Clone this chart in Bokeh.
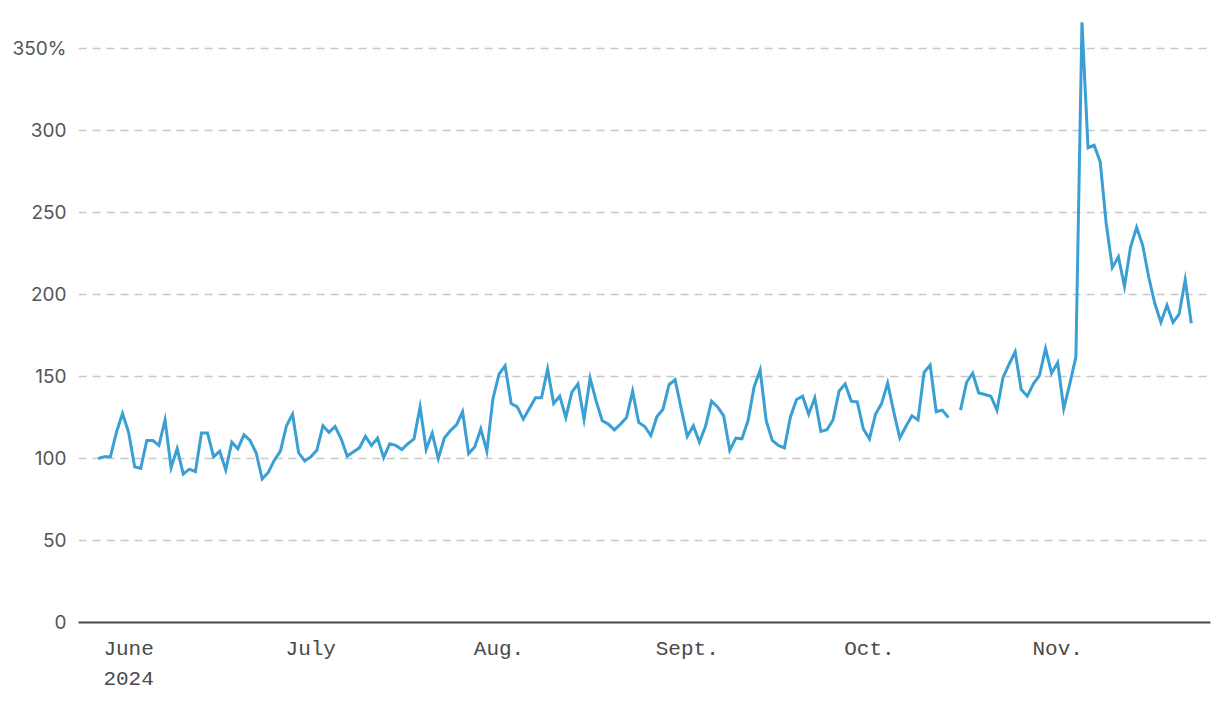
import datetime
import numpy as np
import pandas as pd
from bokeh.plotting import figure
from bokeh.models import FixedTicker, Range1d, ColumnDataSource
from bokeh.embed import file_html
from bokeh.resources import INLINE

nan = np.nan

# Daily index values (%), May 27 – Nov 23, 2024 (one missing day mid-October)
start_date = "2024-05-27"
end_date = "2024-11-23"
values = [
    100, 101, 101, 116, 127.5, 116, 95, 94, 111, 111, 108, 123.5, 94.5, 106, 90.5, 93.5, 92, 115.5, 115.5, 101, 104.5, 93, 110, 106, 114.5,
    111, 103.5, 87.5, 91.5, 99, 104.5, 120, 127, 103.5, 98.5, 101, 105, 120, 116, 119.5, 112, 101.5, 104, 106.5, 113.5, 108, 112.5, 100.5, 109, 108,
    105.5, 109, 112, 131.5, 105.5, 115.5, 100, 112.5, 117, 120.5, 128.5, 103, 107, 118, 104.5, 136.5, 151.5, 156.5, 133.5, 131.5, 124, 130.5, 137, 137,
    154.5, 133.5, 138, 125, 140.5, 145.5, 124, 149, 135, 123, 121, 117.5, 121, 125, 141, 122, 119.5, 114, 125.5, 130, 145, 148, 130.5, 113.5, 120,
    110, 119.5, 135, 131.5, 126, 105, 112.5, 112, 123, 143.5, 154, 123, 111, 108, 106.5, 125.5, 136, 138, 127, 137, 116.5, 117.5, 123.5, 141, 145.5,
    135, 134.5, 118, 112, 127, 133.5, 146, 128.5, 112.5, 119.5, 126, 123.5, 152.5, 157, 128.5, 129.5, 125, nan, 129.5, 146.5, 152, 140, 139, 138,
    129.5, 149.5, 157.5, 165, 142, 138, 145.5, 150.5, 167, 152, 158.5, 130.5, 145.5, 162,
    366, 289.5, 291, 281, 243, 216.5, 223, 205, 229, 241, 230, 210.5, 194.5, 183, 193.5, 183, 188, 209, 182.5,
]

month_ticks = ["2024-06-01", "2024-07-01", "2024-08-01", "2024-09-01", "2024-10-01", "2024-11-01"]
month_labels = ["June\n2024", "July", "Aug.", "Sept.", "Oct.", "Nov."]

y_ticks = [0, 50, 100, 150, 200, 250, 300, 350]
y_labels = ["0", "50", "100", "150", "200", "250", "300", "350%"]

dates = pd.date_range(start_date, end_date, freq="D")
source = ColumnDataSource(data=dict(date=dates, value=values))

x_start = pd.Timestamp(start_date) - pd.Timedelta(hours=78)
x_end = pd.Timestamp(end_date) + pd.Timedelta(hours=76)

p = figure(
    width=1220, height=702,
    x_axis_type="datetime",
    output_backend="svg",
    toolbar_location=None,
    min_border_left=78, min_border_right=10,
    min_border_top=10, min_border_bottom=80,
    x_range=Range1d(x_start, x_end),
    y_range=Range1d(0, 373.2),
)
p.outline_line_color = None
p.background_fill_color = "white"
p.border_fill_color = "white"

p.line(x="date", y="value", source=source, line_color="#3a9fd3", line_width=3, line_join="miter")

# x axis
tick_ms = [int(pd.Timestamp(t).value // 10**6) for t in month_ticks]
p.xaxis.ticker = FixedTicker(ticks=tick_ms)
p.xaxis.major_label_overrides = {t: l for t, l in zip(tick_ms, month_labels)}
p.xaxis.axis_line_color = "#4a4a4a"
p.xaxis.axis_line_width = 2
p.xaxis.major_tick_line_color = None
p.xaxis.minor_tick_line_color = None
p.xaxis.major_label_text_font = "Liberation Mono"
p.xaxis.major_label_text_font_size = "21px"
p.xaxis.major_label_text_color = "#4a4a4a"
p.xaxis.major_label_text_line_height = 1.32
p.xaxis.major_label_standoff = 9
p.xgrid.grid_line_color = None

# y axis
p.yaxis.ticker = FixedTicker(ticks=y_ticks)
p.yaxis.major_label_overrides = {t: l for t, l in zip(y_ticks, y_labels)}
p.yaxis.axis_line_color = None
p.yaxis.major_tick_line_color = None
p.yaxis.minor_tick_line_color = None
p.yaxis.major_label_text_font = "Inter"
p.yaxis.major_label_text_font_size = "19px"
p.yaxis.major_label_text_color = "#555555"
p.yaxis.major_label_standoff = 6
p.ygrid.grid_line_color = "#c8c8c8"
p.ygrid.grid_line_width = 1.5
p.ygrid.grid_line_dash = "8 6"

open("out.html", "w").write(file_html(p, INLINE))
